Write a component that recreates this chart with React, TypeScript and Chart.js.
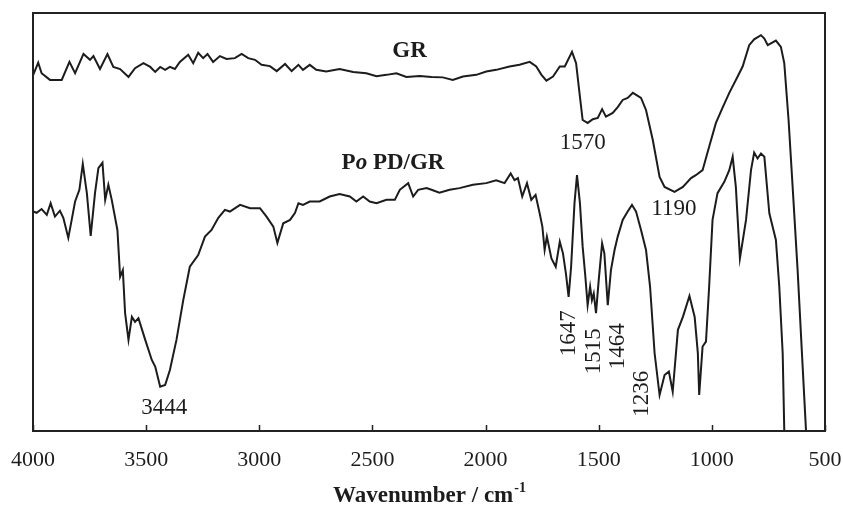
import { useEffect, useRef } from "react";
import { Chart, registerables } from "chart.js";

Chart.register(...registerables);

// ---- Data (wavenumber in cm^-1, transmittance in arbitrary units 0-100) ----
const grWavenumber = [
  3999, 3977, 3962, 3925, 3873, 3839, 3814, 3777, 3748, 3733, 3704, 3671, 3645, 3615, 3578, 3549,
  3512, 3482, 3460, 3438, 3416, 3395, 3373, 3351, 3314, 3292, 3270, 3248, 3229, 3204, 3174, 3145,
  3108, 3078, 3049, 3019, 2990, 2953, 2923, 2886, 2857, 2827, 2807, 2777, 2748, 2704, 2645, 2585,
  2527, 2482, 2438, 2394, 2350, 2291, 2239, 2189, 2145, 2100, 2041, 1997, 1953, 1894, 1850, 1805,
  1776, 1753, 1731, 1702, 1672, 1650, 1618, 1600, 1585, 1571, 1549, 1526, 1504, 1485, 1468, 1438,
  1416, 1394, 1372, 1349, 1313, 1291, 1261, 1231, 1209, 1165, 1128, 1092, 1071, 1041, 1012, 982,
  953, 923, 886, 864, 835, 813, 783, 768, 753, 717, 695, 680, 661, 643, 621, 602, 584, 570,
];
const grSignal = [
  85.2, 88.1, 85.6, 84.0, 84.0, 88.3, 85.6, 90.2, 88.8, 89.7, 86.6, 90.2, 87.1, 86.6, 84.7, 86.8,
  88.0, 87.1, 85.9, 87.1, 86.4, 87.1, 86.6, 88.3, 90.0, 88.0, 90.5, 89.2, 90.2, 88.3, 89.7, 89.0,
  89.2, 90.2, 89.2, 88.8, 87.6, 87.3, 86.1, 87.8, 86.1, 87.6, 86.4, 87.6, 86.4, 86.0, 86.6, 85.9,
  85.6, 84.9, 85.2, 85.6, 84.7, 84.9, 84.7, 84.6, 84.0, 84.8, 85.2, 86.0, 86.4, 87.2, 87.6, 88.3,
  87.2, 85.2, 83.8, 84.8, 87.2, 87.2, 90.7, 88.0, 80.9, 74.4, 73.7, 74.6, 74.9, 77.0, 75.2, 76.1,
  77.5, 79.2, 79.7, 80.9, 79.7, 76.8, 69.6, 60.8, 58.4, 57.2, 58.4, 60.5, 61.2, 62.4, 68.0, 73.7,
  77.3, 80.9, 84.8, 87.2, 92.3, 93.7, 94.7, 93.9, 92.3, 93.4, 91.9, 88.0, 74.4, 58.4, 38.5, 18.7, 0.2, -6,
];

const popdWavenumber = [
  3999, 3984, 3962, 3939, 3922, 3903, 3881, 3866, 3844, 3829, 3814, 3795, 3780, 3762, 3745, 3726,
  3711, 3693, 3681, 3667, 3652, 3627, 3615, 3603, 3593, 3578, 3563, 3549, 3534, 3504, 3475, 3460,
  3438, 3416, 3395, 3366, 3336, 3307, 3270, 3240, 3211, 3181, 3152, 3130, 3085, 3041, 2997, 2968,
  2938, 2920, 2894, 2864, 2842, 2827, 2807, 2777, 2733, 2689, 2645, 2600, 2571, 2541, 2512, 2482,
  2438, 2401, 2379, 2342, 2320, 2298, 2261, 2239, 2204, 2159, 2115, 2056, 1997, 1953, 1916, 1889,
  1872, 1857, 1838, 1817, 1798, 1779, 1761, 1749, 1739, 1729, 1709, 1690, 1672, 1658, 1645, 1633,
  1622, 1607, 1596, 1583, 1571, 1559, 1549, 1538, 1530, 1522, 1512, 1500, 1485, 1475, 1460, 1446,
  1430, 1416, 1394, 1372, 1353, 1335, 1313, 1291, 1273, 1253, 1231, 1209, 1190, 1173, 1150, 1128,
  1099, 1076, 1062, 1056, 1041, 1026, 1012, 997, 975, 945, 923, 908, 894, 876, 849, 827,
  813, 798, 783, 768, 746, 717, 702, 687, 680, 670,
];
const popdSignal = [
  52.5, 52.2, 53.1, 51.7, 54.5, 51.3, 52.7, 51.0, 46.2, 50.5, 54.9, 57.7, 63.9, 56.9, 46.7, 56.9,
  62.9, 64.2, 55.3, 58.9, 55.3, 48.1, 36.9, 38.5, 28.2, 21.8, 27.3, 26.1, 27.0, 21.8, 17.0, 15.4,
  10.6, 11.0, 14.6, 21.8, 31.3, 39.3, 42.1, 46.5, 48.1, 51.0, 52.9, 52.5, 54.1, 53.3, 53.3, 51.3,
  48.9, 45.0, 49.7, 50.5, 52.2, 54.5, 54.1, 54.9, 54.9, 56.1, 56.7, 56.1, 54.9, 56.1, 54.9, 54.5,
  55.3, 55.3, 57.7, 59.3, 56.1, 57.7, 58.1, 57.7, 57.0, 57.7, 58.1, 58.9, 59.3, 60.0, 59.3, 61.6,
  60.0, 60.5, 56.1, 59.3, 55.3, 56.5, 52.1, 48.9, 43.3, 46.5, 41.3, 39.3, 45.3, 42.5, 37.7, 32.1,
  39.3, 54.5, 61.2, 54.5, 44.1, 36.9, 30.1, 34.5, 31.3, 32.9, 28.2, 36.1, 44.9, 42.5, 30.1, 38.5,
  43.3, 46.5, 50.5, 52.5, 54.1, 52.5, 48.1, 43.3, 34.5, 18.6, 8.6, 13.4, 14.2, 9.4, 24.2, 27.3,
  32.3, 27.3, 18.7, 8.6, 20.2, 21.4, 34.5, 50.5, 56.9, 59.6, 62.4, 65.6, 58.4, 41.3, 50.5, 62.4,
  66.6, 65.2, 66.4, 65.6, 52.1, 45.7, 34.5, 18.6, 0.2, -6,
];

const xTickValues = [4000, 3500, 3000, 2500, 2000, 1500, 1000, 500];

// Peak labels: text, wavenumber position, signal position, rotated?
const peakText = ["3444", "1570", "1190", "1647", "1515", "1464", "1236"];
const peakWavenumber = [3420, 1571, 1168, 1633, 1522, 1416, 1310];
const peakSignal = [5.5, 68.9, 53.1, 23.4, 19.1, 20.3, 8.9];
const peakRotated = [false, false, false, true, true, true, true];

// Series name labels
const seriesLabelWavenumber = [2336, 2409];
const seriesLabelSignal = [90.9, 64.1];

const SERIF = '"Liberation Serif", "Times New Roman", serif';
const INK = "#1c1c1c";

const annotationPlugin = {
  id: "annotations",
  afterDraw(chart: any) {
    const { ctx, chartArea, scales } = chart;
    const x = scales.x;
    const y = scales.y;
    const { left, top, right, bottom } = chartArea;
    ctx.save();
    // frame
    ctx.strokeStyle = "#222";
    ctx.lineWidth = 2;
    ctx.strokeRect(left, top, right - left, bottom - top);

    // inward tick marks on the bottom axis
    ctx.lineWidth = 1.5;
    ctx.beginPath();
    for (const t of x.ticks) {
      const tx = Math.round(x.getPixelForValue(t.value)) + 0.5;
      ctx.moveTo(tx, bottom);
      ctx.lineTo(tx, bottom - 6);
    }
    ctx.stroke();

    ctx.fillStyle = INK;
    ctx.textBaseline = "middle";
    ctx.textAlign = "center";

    // peak labels
    ctx.font = `23px ${SERIF}`;
    for (let i = 0; i < peakText.length; i++) {
      const px = x.getPixelForValue(peakWavenumber[i]);
      const py = y.getPixelForValue(peakSignal[i]);
      if (peakRotated[i]) {
        ctx.save();
        ctx.translate(px, py);
        ctx.rotate(-Math.PI / 2);
        ctx.fillText(peakText[i], 0, 0);
        ctx.restore();
      } else {
        ctx.fillText(peakText[i], px, py);
      }
    }

    // "GR"
    ctx.font = `bold 23px ${SERIF}`;
    ctx.fillText("GR", x.getPixelForValue(seriesLabelWavenumber[0]), y.getPixelForValue(seriesLabelSignal[0]));

    // "Po PD/GR" with italic o
    const parts: [string, string][] = [
      ["P", `bold 23px ${SERIF}`],
      ["o", `italic bold 23px ${SERIF}`],
      [" PD/GR", `bold 23px ${SERIF}`],
    ];
    let total = 0;
    const widths: number[] = [];
    for (const [t, f] of parts) {
      ctx.font = f;
      const w = ctx.measureText(t).width;
      widths.push(w);
      total += w;
    }
    let cx = x.getPixelForValue(seriesLabelWavenumber[1]) - total / 2;
    const cy = y.getPixelForValue(seriesLabelSignal[1]);
    ctx.textAlign = "left";
    parts.forEach(([t, f], i) => {
      ctx.font = f;
      ctx.fillText(t, cx, cy);
      cx += widths[i];
    });

    // axis title with superscript
    const mainText = "Wavenumber / cm";
    const supText = "-1";
    ctx.font = `bold 23px ${SERIF}`;
    const wMain = ctx.measureText(mainText).width;
    ctx.font = `bold 14px ${SERIF}`;
    const wSup = ctx.measureText(supText).width;
    const startX = (left + right) / 2 - (wMain + wSup) / 2;
    const baseY = bottom + 71;
    ctx.textBaseline = "alphabetic";
    ctx.font = `bold 23px ${SERIF}`;
    ctx.fillText(mainText, startX, baseY);
    ctx.font = `bold 14px ${SERIF}`;
    ctx.fillText(supText, startX + wMain + 1, baseY - 10);
    ctx.restore();
  },
};

export default function App() {
  const canvasRef = useRef<HTMLCanvasElement | null>(null);

  useEffect(() => {
    const canvas = canvasRef.current;
    if (!canvas) return;
    const grData = grWavenumber.map((w, i) => ({ x: w, y: grSignal[i] }));
    const popdData = popdWavenumber.map((w, i) => ({ x: w, y: popdSignal[i] }));

    const chart = new Chart(canvas, {
      type: "line",
      data: {
        datasets: [
          {
            label: "GR",
            data: grData,
            borderColor: INK,
            borderWidth: 2,
            pointRadius: 0,
            tension: 0,
            fill: false,
          },
          {
            label: "PoPD/GR",
            data: popdData,
            borderColor: INK,
            borderWidth: 2,
            pointRadius: 0,
            tension: 0,
            fill: false,
          },
        ],
      },
      options: {
        responsive: false,
        animation: false,
        devicePixelRatio: 1,
        parsing: false as any,
        layout: { padding: { left: 33, top: 13, right: 18, bottom: 0 } },
        plugins: {
          legend: { display: false },
          tooltip: { enabled: false },
        },
        scales: {
          x: {
            type: "linear",
            reverse: true,
            min: 500,
            max: 4000,
            afterBuildTicks: (scale: any) => {
              scale.ticks = xTickValues.map((v) => ({ value: v }));
            },
            afterFit: (scale: any) => {
              scale.height = 76;
              scale.paddingLeft = 0;
              scale.paddingRight = 0;
            },
            grid: { display: false },
            border: { display: false },
            ticks: {
              color: INK,
              font: { family: SERIF, size: 22 },
              padding: 8,
              maxRotation: 0,
              autoSkip: false,
              callback: (v: any) => String(v),
            },
          },
          y: {
            type: "linear",
            display: false,
            min: 0,
            max: 100,
          },
        },
      },
      plugins: [annotationPlugin],
    });
    return () => chart.destroy();
  }, []);

  return (
    <div style={{ position: "absolute", left: 0, top: 0, width: 843, height: 507, background: "#fff" }}>
      <canvas ref={canvasRef} width={843} height={507} style={{ display: "block" }} />
    </div>
  );
}
